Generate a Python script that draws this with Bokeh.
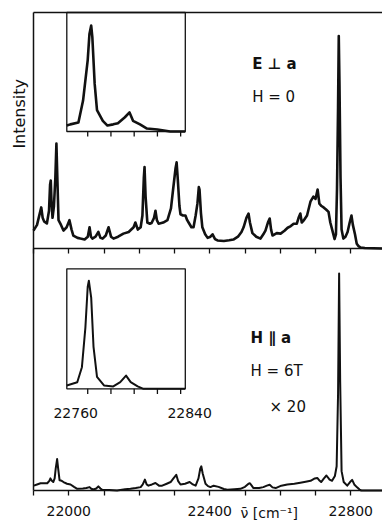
import math
from bokeh.plotting import figure
from bokeh.models import Range1d, FixedTicker, LinearAxis
from bokeh.core.properties import value
from bokeh.embed import file_html
from bokeh.resources import INLINE

# ---------------- data ----------------
# main spectrum, E perp a, H = 0 (wavenumber cm^-1, relative intensity 0..100)
top_wn = [21900, 21910, 21918, 21922, 21926, 21930, 21938, 21944, 21947, 21949,
          21951, 21954, 21958, 21962, 21965, 21968, 21971, 21978, 21985, 21994,
          22002, 22008, 22013, 22025, 22033, 22045, 22054, 22059, 22063, 22067,
          22076, 22084, 22090, 22096, 22105, 22113, 22120, 22127, 22140, 22155,
          22170, 22184, 22189, 22196, 22204, 22209, 22213, 22215, 22218, 22223,
          22230, 22235, 22242, 22246, 22250, 22255, 22268, 22280, 22290, 22296,
          22303, 22306, 22309, 22314, 22317, 22324, 22331, 22336, 22340, 22348,
          22354, 22360, 22365, 22369, 22371, 22375, 22379, 22387, 22394, 22402,
          22408, 22415, 22422, 22440, 22455, 22467, 22480, 22490, 22496, 22504,
          22510, 22514, 22521, 22532, 22544, 22552, 22558, 22565, 22570, 22574,
          22578, 22590, 22601, 22612, 22621, 22630, 22638, 22647, 22652, 22657,
          22661, 22666, 22676, 22686, 22694, 22700, 22706, 22711, 22717, 22723,
          22730, 22737, 22742, 22748, 22754, 22758, 22761, 22764, 22766, 22768,
          22771, 22774, 22779, 22785, 22791, 22797, 22802, 22806, 22812, 22817,
          22822, 22828, 22840, 22890]
top_int = [7.6, 10, 15, 17.4, 13, 11.5, 10.6, 16, 27, 28.8,
           20, 13, 18, 30, 44.5, 28, 12, 10, 7.6, 9,
           12, 8, 5.5, 4.5, 4.2, 3.8, 5, 9, 5, 4.2,
           5, 7, 4.5, 4.2, 5.5, 9, 5, 4.2, 5, 6.3,
           7, 9, 11, 8, 9, 14, 30, 34.5, 22, 11,
           10.5, 10.8, 13, 16, 12, 10.5, 11, 12, 17, 25,
           34, 36.5, 30, 18, 14.5, 14, 14, 12, 11, 9,
           9, 14, 19, 26, 25, 15, 9, 6, 4.5, 5,
           6, 4, 3.4, 3.2, 3.5, 3.8, 5, 7, 9, 13,
           14.8, 11, 6.5, 5, 4.2, 6, 7.6, 11, 12.7, 8,
           5.5, 6.5, 6.3, 7.5, 8.8, 9.5, 10.5, 10.5, 13, 14.8,
           11, 11.8, 14, 20, 22, 21, 25, 19, 18, 17.4,
           16.5, 15.5, 11, 7.6, 4, 6, 25, 60, 90, 70,
           30, 8, 4.2, 5, 7, 11, 14, 10, 6, 2,
           1, 0.4, 0.2, 0]

# main spectrum, H || a, H = 6 T (x 20)
bot_wn = [21901, 21910, 21920, 21930, 21939, 21945, 21948, 21952, 21956, 21960,
          21963, 21967, 21970, 21974, 21980, 21985, 21995, 22005, 22015, 22024,
          22040, 22050, 22059, 22064, 22070, 22078, 22084, 22090, 22095, 22115,
          22137, 22160, 22175, 22190, 22204, 22210, 22216, 22221, 22226, 22236,
          22246, 22256, 22265, 22278, 22289, 22297, 22305, 22310, 22317, 22330,
          22343, 22352, 22360, 22368, 22373, 22376, 22380, 22388, 22395, 22402,
          22411, 22425, 22440, 22450, 22470, 22487, 22500, 22510, 22514, 22519,
          22524, 22540, 22552, 22562, 22570, 22578, 22587, 22603, 22620, 22640,
          22657, 22672, 22686, 22698, 22705, 22712, 22716, 22724, 22731, 22740,
          22747, 22755, 22760, 22764, 22767, 22770, 22774, 22780, 22790, 22798,
          22804, 22810, 22818, 22825, 22830, 22890]
bot_int = [2, 2.5, 3, 3, 3, 4, 5, 4, 3.5, 5,
           9, 13, 9, 4.2, 4, 3.5, 2.8, 2.5, 1.5, 0.7,
           0.8, 1, 1.4, 0.7, 0.4, 0.8, 1.7, 0.8, 0.3, 0.2,
           0, 0.5, 0.7, 1, 1.4, 2.5, 4.5, 2.5, 2, 2.5,
           3.1, 2, 2, 2.8, 3.5, 5, 6.5, 4, 2.5, 2.8,
           3.5, 2.5, 2, 5, 9, 10, 7, 2.8, 1.8, 1.4,
           2, 1.5, 0.6, 0.3, 0.5, 0.7, 1.5, 2.8, 3, 2,
           1, 1, 1.4, 2, 2.4, 1.3, 1, 2, 2.5, 2.8,
           3.2, 3.6, 4, 5, 5.2, 4, 3.5, 5, 6.2, 4.5,
           4, 6, 10, 40, 89.7, 45, 8, 3.5, 2, 3.5,
           4.4, 2.5, 1.3, 0.4, 0, 0]

# insets (22742 .. 22844 cm^-1)
ins_top_wn = [22742, 22745, 22752, 22756, 22760, 22761.5, 22763, 22764, 22766, 22768,
              22773, 22777, 22782, 22786, 22792, 22796, 22799, 22805, 22811, 22820,
              22831, 22844]
ins_top_int = [5, 6, 7.5, 26, 60, 82, 89, 79, 40, 18,
               9, 5, 6, 7, 12, 16, 9, 6, 2.5, 1.7,
               0, 0]
ins_bot_wn = [22742, 22751, 22755, 22758, 22760, 22761, 22763, 22765, 22768, 22774,
              22782, 22788, 22793, 22797, 22803, 22808, 22844]
ins_bot_int = [2.8, 5.5, 18, 51, 85, 90, 76, 35, 10, 2.8,
               2, 5.5, 11, 5.5, 2, 0, 0]

main_ticks = [21900, 22000, 22100, 22200, 22300, 22400, 22500, 22600, 22700, 22800]
main_labeled = [22000, 22400, 22800]
inset_ticks = [22760, 22780, 22800, 22820, 22840]
inset_labeled = [22760, 22840]
x_unit_label = "\u03bd\u0304  [cm\u207b\u00b9]"

# ---------------- layout (reference pixel geometry) ----------------
W, H = 382, 520
PX0, PX_PER = 33.0, 0.3525        # left spine px, px per cm^-1
WN0 = 21900


def px_to_wn(px):
    return WN0 + (px - PX0) / PX_PER


X_LO, X_HI = px_to_wn(0), px_to_wn(W)
FONT = value("DejaVu Sans")
INK = "#111111"

p = figure(width=W, height=H, output_backend="svg", toolbar_location=None,
           x_range=Range1d(X_LO, X_HI), y_range=Range1d(H, 0),
           x_axis_location=None, y_axis_location=None,
           min_border_left=0, min_border_right=0, min_border_top=0,
           min_border_bottom=0, background_fill_color="white",
           border_fill_color="white", outline_line_color=None)
p.xgrid.visible = False
p.ygrid.visible = False

minor = [t for t in main_ticks if t not in main_labeled]


def style_axis(ax, tick_len):
    ax.major_tick_out = tick_len
    ax.major_tick_in = 0
    ax.minor_tick_out = tick_len
    ax.minor_tick_in = 0
    ax.axis_line_width = 1.5
    ax.axis_line_color = INK
    ax.major_tick_line_color = INK
    ax.minor_tick_line_color = INK
    ax.major_tick_line_width = 1.3
    ax.minor_tick_line_width = 1.3


# bottom wavenumber axis
xb = LinearAxis(fixed_location=490, bounds=(WN0, X_HI),
                ticker=FixedTicker(ticks=main_labeled, minor_ticks=minor))
style_axis(xb, 5)
xb.major_label_text_font = "DejaVu Sans"
xb.major_label_text_font_size = "14px"
xb.major_label_text_color = INK
xb.major_label_standoff = 10
p.add_layout(xb, "below")

# middle axis line (ticks only)
xm = LinearAxis(fixed_location=248, bounds=(WN0, X_HI),
                ticker=FixedTicker(ticks=[], minor_ticks=main_ticks))
style_axis(xm, 5)
p.add_layout(xm, "below")

# top border
xt = LinearAxis(fixed_location=12, bounds=(WN0, X_HI),
                ticker=FixedTicker(ticks=[], minor_ticks=[]))
style_axis(xt, 0)
p.add_layout(xt, "above")

# left spine
yl = LinearAxis(fixed_location=WN0, bounds=(12, 490),
                ticker=FixedTicker(ticks=[], minor_ticks=[]))
style_axis(yl, 0)
p.add_layout(yl, "left")

# main spectra
top = p.subplot(x_source=p.x_range, y_source=Range1d(0, 100),
                x_target=p.x_range, y_target=Range1d(248, 12))
top.line(top_wn, top_int, line_color=INK, line_width=2.6, line_join="round")

bot = p.subplot(x_source=p.x_range, y_source=Range1d(0, 100),
                x_target=p.x_range, y_target=Range1d(490, 248))
bot.line(bot_wn, bot_int, line_color=INK, line_width=2.0, line_join="round")

# insets
ins_x_src = (22742, 22844)
for (yb, yt, wn, inten, lw, labels) in [(131, 12, ins_top_wn, ins_top_int, 2.6, False),
                                        (388.3, 268.3, ins_bot_wn, ins_bot_int, 2.0, True)]:
    ins = p.subplot(x_source=Range1d(*ins_x_src), y_source=Range1d(0, 100),
                    x_target=Range1d(px_to_wn(66.3), px_to_wn(184.8)),
                    y_target=Range1d(yb, yt))
    ins.quad(left=[ins_x_src[0]], right=[ins_x_src[1]], bottom=[0], top=[100],
             fill_color=None, line_color=INK, line_width=1.3)
    ins.segment(x0=inset_ticks, y0=[0] * len(inset_ticks), x1=inset_ticks,
                y1=[-4.3] * len(inset_ticks), line_color=INK, line_width=1.3)
    ins.line(wn, inten, line_color=INK, line_width=lw, line_join="round")
    if labels:
        for t, dx in zip(inset_labeled, [-12, 9]):
            ins.text(x=[t], y=[-20.5], text=[str(t)], text_font=FONT,
                     text_font_size="14px", text_color=INK, text_align="center",
                     text_baseline="alphabetic", x_offset=dx)

# annotations
notes = [
    (251.7, 63.3, "E \u22a5 a", "bold"),
    (251.7, 96.7, "H = 0", "normal"),
    (250.0, 337.3, "H \u2225 a", "bold"),
    (250.0, 370.0, "H = 6T", "normal"),
    (269.0, 406.7, "\u00d7 20", "normal"),
]
for px, py, txt, style in notes:
    p.text(x=[px_to_wn(px)], y=[py], text=[txt], text_font=FONT,
           text_font_style=style, text_font_size="15px", text_color=INK,
           text_align="left", text_baseline="alphabetic")

p.text(x=[px_to_wn(240)], y=[512], text=[x_unit_label], text_font=FONT,
       text_font_size="14px", text_color=INK, text_align="left",
       text_baseline="alphabetic")
p.text(x=[px_to_wn(18.7)], y=[113.3], text=["Intensity"], angle=math.pi / 2,
       text_font=FONT, text_font_size="16px", text_color=INK,
       text_align="center", text_baseline="middle")

open("out.html", "w").write(file_html(p, INLINE))
